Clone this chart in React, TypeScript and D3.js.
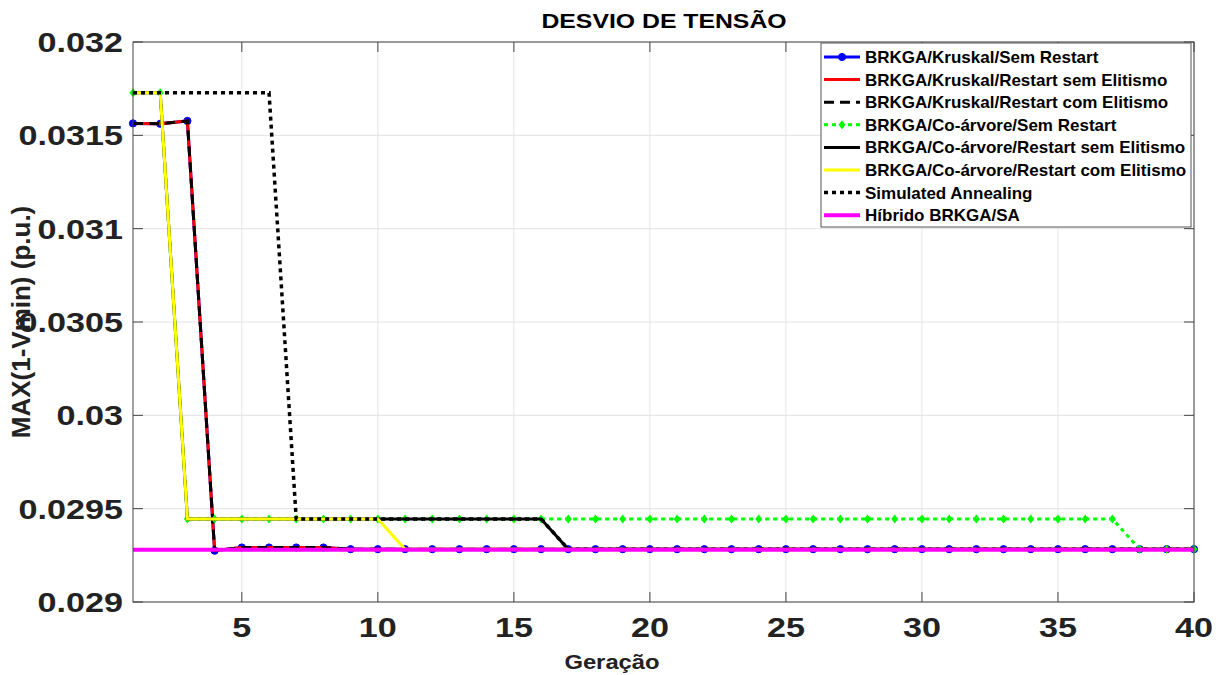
import * as d3 from "d3";
import React from "react";

const generations = [
  1, 2, 3, 4, 5, 6, 7, 8, 9, 10, 11, 12, 13, 14, 15, 16, 17, 18, 19, 20,
  21, 22, 23, 24, 25, 26, 27, 28, 29, 30, 31, 32, 33, 34, 35, 36, 37, 38, 39, 40,
];

const kruskalSemRestart = [
  0.031564, 0.031562, 0.031577, 0.029275, 0.029292, 0.029292, 0.029292, 0.029292, 0.029283, 0.029283,
  0.029283, 0.029283, 0.029283, 0.029283, 0.029283, 0.029283, 0.029283, 0.029283, 0.029283, 0.029283,
  0.029283, 0.029283, 0.029283, 0.029283, 0.029283, 0.029283, 0.029283, 0.029283, 0.029283, 0.029283,
  0.029283, 0.029283, 0.029283, 0.029283, 0.029283, 0.029283, 0.029283, 0.029283, 0.029283, 0.029283,
];
const kruskalRestartSemElit = [
  0.031564, 0.031562, 0.031577, 0.029275, 0.029292, 0.029292, 0.029292, 0.029292, 0.029283, 0.029283,
  0.029283, 0.029283, 0.029283, 0.029283, 0.029283, 0.029283, 0.029283, 0.029283, 0.029283, 0.029283,
  0.029283, 0.029283, 0.029283, 0.029283, 0.029283, 0.029283, 0.029283, 0.029283, 0.029283, 0.029283,
  0.029283, 0.029283, 0.029283, 0.029283, 0.029283, 0.029283, 0.029283, 0.029283, 0.029283, 0.029283,
];
const kruskalRestartComElit = [
  0.031564, 0.031562, 0.031577, 0.029275, 0.029292, 0.029292, 0.029292, 0.029292, 0.029283, 0.029283,
  0.029283, 0.029283, 0.029283, 0.029283, 0.029283, 0.029283, 0.029283, 0.029283, 0.029283, 0.029283,
  0.029283, 0.029283, 0.029283, 0.029283, 0.029283, 0.029283, 0.029283, 0.029283, 0.029283, 0.029283,
  0.029283, 0.029283, 0.029283, 0.029283, 0.029283, 0.029283, 0.029283, 0.029283, 0.029283, 0.029283,
];
const coarvoreSemRestart = [
  0.031728, 0.031728, 0.029445, 0.029445, 0.029445, 0.029445, 0.029445, 0.029445, 0.029445, 0.029445,
  0.029445, 0.029445, 0.029445, 0.029445, 0.029445, 0.029445, 0.029445, 0.029445, 0.029445, 0.029445,
  0.029445, 0.029445, 0.029445, 0.029445, 0.029445, 0.029445, 0.029445, 0.029445, 0.029445, 0.029445,
  0.029445, 0.029445, 0.029445, 0.029445, 0.029445, 0.029445, 0.029445, 0.029283, 0.029283, 0.029283,
];
const coarvoreRestartSemElit = [
  0.031728, 0.031728, 0.029445, 0.029445, 0.029445, 0.029445, 0.029445, 0.029445, 0.029445, 0.029445,
  0.029445, 0.029445, 0.029445, 0.029445, 0.029445, 0.029445, 0.029283, 0.029283, 0.029283, 0.029283,
  0.029283, 0.029283, 0.029283, 0.029283, 0.029283, 0.029283, 0.029283, 0.029283, 0.029283, 0.029283,
  0.029283, 0.029283, 0.029283, 0.029283, 0.029283, 0.029283, 0.029283, 0.029283, 0.029283, 0.029283,
];
const coarvoreRestartComElit = [
  0.031728, 0.031728, 0.029445, 0.029445, 0.029445, 0.029445, 0.029445, 0.029445, 0.029445, 0.029445,
  0.029283, 0.029283, 0.029283, 0.029283, 0.029283, 0.029283, 0.029283, 0.029283, 0.029283, 0.029283,
  0.029283, 0.029283, 0.029283, 0.029283, 0.029283, 0.029283, 0.029283, 0.029283, 0.029283, 0.029283,
  0.029283, 0.029283, 0.029283, 0.029283, 0.029283, 0.029283, 0.029283, 0.029283, 0.029283, 0.029283,
];
const simulatedAnnealing = [
  0.031728, 0.031728, 0.031728, 0.031728, 0.031728, 0.031728, 0.029445, 0.029445, 0.029445, 0.029445,
  0.029445, 0.029445, 0.029445, 0.029445, 0.029445, 0.029445, 0.029283, 0.029283, 0.029283, 0.029283,
  0.029283, 0.029283, 0.029283, 0.029283, 0.029283, 0.029283, 0.029283, 0.029283, 0.029283, 0.029283,
  0.029283, 0.029283, 0.029283, 0.029283, 0.029283, 0.029283, 0.029283, 0.029283, 0.029283, 0.029283,
];
const hibrido = [
  0.02928, 0.02928, 0.02928, 0.02928, 0.02928, 0.02928, 0.02928, 0.02928, 0.02928, 0.02928,
  0.02928, 0.02928, 0.02928, 0.02928, 0.02928, 0.02928, 0.02928, 0.02928, 0.02928, 0.02928,
  0.02928, 0.02928, 0.02928, 0.02928, 0.02928, 0.02928, 0.02928, 0.02928, 0.02928, 0.02928,
  0.02928, 0.02928, 0.02928, 0.02928, 0.02928, 0.02928, 0.02928, 0.02928, 0.02928, 0.02928,
];

const xTicks = [5, 10, 15, 20, 25, 30, 35, 40];
const yTicks = [0.029, 0.0295, 0.03, 0.0305, 0.031, 0.0315, 0.032];
const yTickLabels = ["0.029", "0.0295", "0.03", "0.0305", "0.031", "0.0315", "0.032"];

type Series = {
  name: string;
  values: number[];
  color: string;
  width: number;
  dash?: string;
  marker?: "circle" | "diamond";
};

const series: Series[] = [
  { name: "BRKGA/Kruskal/Sem Restart", values: kruskalSemRestart, color: "#0000ff", width: 3, marker: "circle" },
  { name: "BRKGA/Kruskal/Restart sem Elitismo", values: kruskalRestartSemElit, color: "#ff0000", width: 3 },
  { name: "BRKGA/Kruskal/Restart com Elitismo", values: kruskalRestartComElit, color: "#000000", width: 3, dash: "10 6" },
  { name: "BRKGA/Co-árvore/Sem Restart", values: coarvoreSemRestart, color: "#00ff00", width: 3, dash: "4 4", marker: "diamond" },
  { name: "BRKGA/Co-árvore/Restart sem Elitismo", values: coarvoreRestartSemElit, color: "#000000", width: 3 },
  { name: "BRKGA/Co-árvore/Restart com Elitismo", values: coarvoreRestartComElit, color: "#ffff00", width: 3 },
  { name: "Simulated Annealing", values: simulatedAnnealing, color: "#000000", width: 3.5, dash: "4 4" },
  { name: "Híbrido BRKGA/SA", values: hibrido, color: "#ff00ff", width: 4 },
];

const W = 1223;
const H = 675;
const left = 133;
const right = 1194;
const top = 42;
const bottom = 602;
const font = "'Liberation Sans', Arial, Helvetica, sans-serif";

function Marker({ kind, x, y, color }: { kind?: string; x: number; y: number; color: string }) {
  if (kind === "circle") return <circle cx={x} cy={y} r={3.6} fill={color} stroke={color} />;
  if (kind === "diamond")
    return <path d={`M${x},${y - 4.5}L${x + 3.5},${y}L${x},${y + 4.5}L${x - 3.5},${y}Z`} fill={color} />;
  return null;
}

export default function App() {
  const x = d3.scaleLinear().domain([1, 40]).range([left, right]);
  const y = d3.scaleLinear().domain([0.029, 0.032]).range([bottom, top]);

  const line = d3
    .line<number>()
    .x((_, i) => x(generations[i]))
    .y((d) => y(d));

  const legX = 821;
  const legY = 43;
  const rowH = 22.6;

  return (
    <svg width={W} height={H} style={{ position: "absolute", left: 0, top: 0, background: "#fff" }} fontFamily={font} fontWeight="bold">
      <rect width={W} height={H} fill="#fff" />
      {/* grid */}
      {xTicks.map((t) => (
        <line key={"gx" + t} x1={x(t)} x2={x(t)} y1={top} y2={bottom} stroke="#e3e3e3" strokeWidth={1} />
      ))}
      {yTicks.map((t) => (
        <line key={"gy" + t} x1={left} x2={right} y1={y(t)} y2={y(t)} stroke="#e3e3e3" strokeWidth={1} />
      ))}

      {/* series */}
      {series.map((s) => (
        <g key={s.name}>
          <path d={line(s.values) || ""} fill="none" stroke={s.color} strokeWidth={s.width} strokeDasharray={s.dash} strokeLinejoin="miter" />
          {s.marker &&
            s.values.map((v, i) => <Marker key={i} kind={s.marker} x={x(generations[i])} y={y(v)} color={s.color} />)}
        </g>
      ))}

      {/* box and ticks */}
      <rect x={left} y={top} width={right - left} height={bottom - top} fill="none" stroke="#444" strokeWidth={1} />
      {xTicks.map((t) => (
        <g key={"tx" + t}>
          <line x1={x(t)} x2={x(t)} y1={bottom} y2={bottom - 10} stroke="#444" />
          <line x1={x(t)} x2={x(t)} y1={top} y2={top + 10} stroke="#444" />
          <text transform={`translate(${x(t)},${bottom + 35}) scale(1.22,1)`} textAnchor="middle" fontSize={28} fill="#222">
            {t}
          </text>
        </g>
      ))}
      {yTicks.map((t, i) => (
        <g key={"ty" + t}>
          <line x1={left} x2={left + 10} y1={y(t)} y2={y(t)} stroke="#444" />
          <line x1={right} x2={right - 10} y1={y(t)} y2={y(t)} stroke="#444" />
          <text transform={`translate(123,${y(t) + 10}) scale(1.22,1)`} textAnchor="end" fontSize={28} fill="#222">
            {yTickLabels[i]}
          </text>
        </g>
      ))}

      {/* title and labels */}
      <text transform={`translate(664,28) scale(1.24,1)`} textAnchor="middle" fontSize={20} fill="#000">
        DESVIO DE TENSÃO
      </text>
      <text transform={`translate(612,669) scale(1.19,1)`} textAnchor="middle" fontSize={20} fill="#222">
        Geração
      </text>
      <text transform={`translate(30,${(top + bottom) / 2}) rotate(-90)`} textAnchor="middle" fontSize={26} fill="#222">
        MAX(1-Vmin) (p.u.)
      </text>

      {/* legend */}
      <rect x={legX} y={legY} width={370} height={184} fill="#fff" stroke="#555" strokeWidth={1} />
      {series.map((s, i) => {
        const cy = legY + 14 + i * rowH;
        return (
          <g key={"lg" + s.name}>
            <line x1={legX + 3} x2={legX + 39} y1={cy} y2={cy} stroke={s.color} strokeWidth={s.width} strokeDasharray={s.dash} />
            <Marker kind={s.marker} x={legX + 21} y={cy} color={s.color} />
            <text x={legX + 44} y={cy + 6} fontSize={17} fill="#000">
              {s.name}
            </text>
          </g>
        );
      })}
    </svg>
  );
}
